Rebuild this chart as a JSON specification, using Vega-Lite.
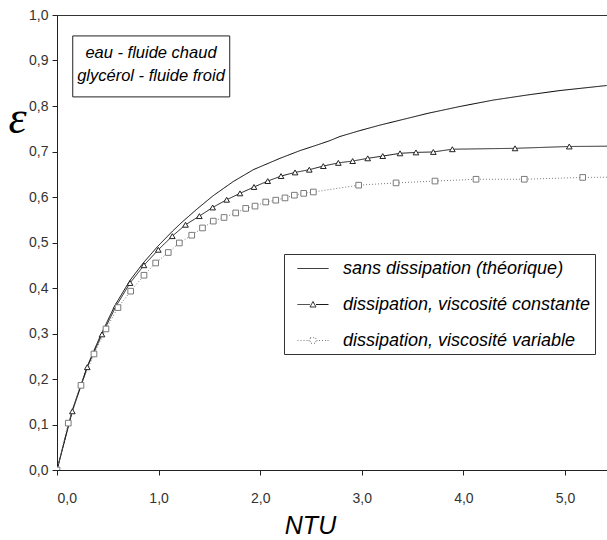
{
  "$schema": "https://vega.github.io/schema/vega-lite/v6.json",
  "width": 551,
  "height": 455,
  "autosize": {"type": "none"},
  "padding": {"left": 57, "top": 15, "right": 0, "bottom": 70},
  "background": "white",
  "config": {
    "view": {"stroke": "#333", "strokeWidth": 1},
    "axis": {"grid": false, "domainColor": "#222", "tickColor": "#222", "tickSize": 5, "labelFont": "Liberation Sans", "labelColor": "#333", "labelFontSize": 14}
  },
  "data": {"values": [
    {"serie": "sans dissipation (théorique)", "ntu": 0, "eps": 0},
    {"serie": "sans dissipation (théorique)", "ntu": 0.15, "eps": 0.131},
    {"serie": "sans dissipation (théorique)", "ntu": 0.3, "eps": 0.229},
    {"serie": "sans dissipation (théorique)", "ntu": 0.423, "eps": 0.293},
    {"serie": "sans dissipation (théorique)", "ntu": 0.571, "eps": 0.362},
    {"serie": "sans dissipation (théorique)", "ntu": 0.719, "eps": 0.417},
    {"serie": "sans dissipation (théorique)", "ntu": 0.849, "eps": 0.455},
    {"serie": "sans dissipation (théorique)", "ntu": 0.989, "eps": 0.491},
    {"serie": "sans dissipation (théorique)", "ntu": 1.137, "eps": 0.525},
    {"serie": "sans dissipation (théorique)", "ntu": 1.227, "eps": 0.544},
    {"serie": "sans dissipation (théorique)", "ntu": 1.375, "eps": 0.573},
    {"serie": "sans dissipation (théorique)", "ntu": 1.538, "eps": 0.603},
    {"serie": "sans dissipation (théorique)", "ntu": 1.735, "eps": 0.634},
    {"serie": "sans dissipation (théorique)", "ntu": 1.932, "eps": 0.66},
    {"serie": "sans dissipation (théorique)", "ntu": 2.195, "eps": 0.685},
    {"serie": "sans dissipation (théorique)", "ntu": 2.392, "eps": 0.702},
    {"serie": "sans dissipation (théorique)", "ntu": 2.556, "eps": 0.714},
    {"serie": "sans dissipation (théorique)", "ntu": 2.687, "eps": 0.724},
    {"serie": "sans dissipation (théorique)", "ntu": 2.785, "eps": 0.733},
    {"serie": "sans dissipation (théorique)", "ntu": 2.982, "eps": 0.746},
    {"serie": "sans dissipation (théorique)", "ntu": 3.179, "eps": 0.758},
    {"serie": "sans dissipation (théorique)", "ntu": 3.343, "eps": 0.767},
    {"serie": "sans dissipation (théorique)", "ntu": 3.652, "eps": 0.784},
    {"serie": "sans dissipation (théorique)", "ntu": 3.967, "eps": 0.799},
    {"serie": "sans dissipation (théorique)", "ntu": 4.294, "eps": 0.813},
    {"serie": "sans dissipation (théorique)", "ntu": 4.623, "eps": 0.824},
    {"serie": "sans dissipation (théorique)", "ntu": 4.951, "eps": 0.834},
    {"serie": "sans dissipation (théorique)", "ntu": 5.41, "eps": 0.845},
    {"serie": "dissipation, viscosité constante", "ntu": 0, "eps": 0},
    {"serie": "dissipation, viscosité constante", "ntu": 0.151, "eps": 0.129},
    {"serie": "dissipation, viscosité constante", "ntu": 0.298, "eps": 0.226},
    {"serie": "dissipation, viscosité constante", "ntu": 0.443, "eps": 0.298},
    {"serie": "dissipation, viscosité constante", "ntu": 0.581, "eps": 0.36},
    {"serie": "dissipation, viscosité constante", "ntu": 0.719, "eps": 0.411},
    {"serie": "dissipation, viscosité constante", "ntu": 0.856, "eps": 0.45},
    {"serie": "dissipation, viscosité constante", "ntu": 0.997, "eps": 0.484},
    {"serie": "dissipation, viscosité constante", "ntu": 1.135, "eps": 0.514},
    {"serie": "dissipation, viscosité constante", "ntu": 1.265, "eps": 0.539},
    {"serie": "dissipation, viscosité constante", "ntu": 1.401, "eps": 0.558},
    {"serie": "dissipation, viscosité constante", "ntu": 1.532, "eps": 0.577},
    {"serie": "dissipation, viscosité constante", "ntu": 1.67, "eps": 0.594},
    {"serie": "dissipation, viscosité constante", "ntu": 1.801, "eps": 0.608},
    {"serie": "dissipation, viscosité constante", "ntu": 1.939, "eps": 0.622},
    {"serie": "dissipation, viscosité constante", "ntu": 2.074, "eps": 0.635},
    {"serie": "dissipation, viscosité constante", "ntu": 2.205, "eps": 0.646},
    {"serie": "dissipation, viscosité constante", "ntu": 2.343, "eps": 0.654},
    {"serie": "dissipation, viscosité constante", "ntu": 2.483, "eps": 0.66},
    {"serie": "dissipation, viscosité constante", "ntu": 2.621, "eps": 0.668},
    {"serie": "dissipation, viscosité constante", "ntu": 2.769, "eps": 0.675},
    {"serie": "dissipation, viscosité constante", "ntu": 2.91, "eps": 0.679},
    {"serie": "dissipation, viscosité constante", "ntu": 3.058, "eps": 0.685},
    {"serie": "dissipation, viscosité constante", "ntu": 3.206, "eps": 0.69},
    {"serie": "dissipation, viscosité constante", "ntu": 3.376, "eps": 0.696},
    {"serie": "dissipation, viscosité constante", "ntu": 3.533, "eps": 0.698},
    {"serie": "dissipation, viscosité constante", "ntu": 3.704, "eps": 0.699},
    {"serie": "dissipation, viscosité constante", "ntu": 3.891, "eps": 0.705},
    {"serie": "dissipation, viscosité constante", "ntu": 4.508, "eps": 0.707},
    {"serie": "dissipation, viscosité constante", "ntu": 5.042, "eps": 0.711},
    {"serie": "dissipation, viscosité constante", "ntu": 5.6, "eps": 0.712},
    {"serie": "dissipation, viscosité variable", "ntu": 0, "eps": 0},
    {"serie": "dissipation, viscosité variable", "ntu": 0.111, "eps": 0.103},
    {"serie": "dissipation, viscosité variable", "ntu": 0.236, "eps": 0.186},
    {"serie": "dissipation, viscosité variable", "ntu": 0.364, "eps": 0.255},
    {"serie": "dissipation, viscosité variable", "ntu": 0.482, "eps": 0.31},
    {"serie": "dissipation, viscosité variable", "ntu": 0.6, "eps": 0.357},
    {"serie": "dissipation, viscosité variable", "ntu": 0.725, "eps": 0.393},
    {"serie": "dissipation, viscosité variable", "ntu": 0.856, "eps": 0.428},
    {"serie": "dissipation, viscosité variable", "ntu": 0.971, "eps": 0.455},
    {"serie": "dissipation, viscosité variable", "ntu": 1.095, "eps": 0.478},
    {"serie": "dissipation, viscosité variable", "ntu": 1.204, "eps": 0.499},
    {"serie": "dissipation, viscosité variable", "ntu": 1.326, "eps": 0.516},
    {"serie": "dissipation, viscosité variable", "ntu": 1.432, "eps": 0.532},
    {"serie": "dissipation, viscosité variable", "ntu": 1.538, "eps": 0.547},
    {"serie": "dissipation, viscosité variable", "ntu": 1.644, "eps": 0.555},
    {"serie": "dissipation, viscosité variable", "ntu": 1.759, "eps": 0.565},
    {"serie": "dissipation, viscosité variable", "ntu": 1.857, "eps": 0.575},
    {"serie": "dissipation, viscosité variable", "ntu": 1.949, "eps": 0.58},
    {"serie": "dissipation, viscosité variable", "ntu": 2.054, "eps": 0.589},
    {"serie": "dissipation, viscosité variable", "ntu": 2.153, "eps": 0.593},
    {"serie": "dissipation, viscosité variable", "ntu": 2.244, "eps": 0.598},
    {"serie": "dissipation, viscosité variable", "ntu": 2.336, "eps": 0.604},
    {"serie": "dissipation, viscosité variable", "ntu": 2.428, "eps": 0.608},
    {"serie": "dissipation, viscosité variable", "ntu": 2.523, "eps": 0.611},
    {"serie": "dissipation, viscosité variable", "ntu": 2.969, "eps": 0.626},
    {"serie": "dissipation, viscosité variable", "ntu": 3.337, "eps": 0.631},
    {"serie": "dissipation, viscosité variable", "ntu": 3.72, "eps": 0.635},
    {"serie": "dissipation, viscosité variable", "ntu": 4.124, "eps": 0.639},
    {"serie": "dissipation, viscosité variable", "ntu": 4.599, "eps": 0.639},
    {"serie": "dissipation, viscosité variable", "ntu": 5.174, "eps": 0.643},
    {"serie": "dissipation, viscosité variable", "ntu": 5.65, "eps": 0.644}
  ]},
  "encoding": {
    "x": {"field": "ntu", "type": "quantitative", "scale": {"domain": [0, 5.423], "nice": false, "zero": false},
      "axis": {"values": [0, 1, 2, 3, 4, 5], "labelExpr": "replace(format(datum.value, '.1f'), '.', ',')", "labelFontSize": 14, "labelPadding": 16,
        "title": "NTU", "titleFont": "Liberation Sans", "titleFontSize": 25, "titleFontStyle": "italic", "titleFontWeight": "normal", "titleColor": "#000", "titleX": 253, "titleY": 63, "titleBaseline": "alphabetic", "titleAlign": "center"}},
    "y": {"field": "eps", "type": "quantitative", "scale": {"domain": [0, 1], "nice": false},
      "axis": {"values": [0, 0.1, 0.2, 0.3, 0.4, 0.5, 0.6, 0.7, 0.8, 0.9, 1], "labelExpr": "replace(format(datum.value, '.1f'), '.', ',')", "labelPadding": 4,
        "title": "ε", "titleAngle": 0, "titleFont": "Liberation Serif", "titleFontSize": 46, "titleFontStyle": "italic", "titleFontWeight": "normal", "titleColor": "#000", "titleX": -40, "titleY": 103, "titleAlign": "center", "titleBaseline": "middle"}}
  },
  "layer": [
    {
      "mark": {"type": "line", "clip": true, "strokeWidth": 1},
      "encoding": {
        "color": {"field": "serie", "type": "nominal",
          "scale": {"domain": ["sans dissipation (théorique)", "dissipation, viscosité constante", "dissipation, viscosité variable"], "range": ["#000000", "#1a1a1a", "#7a7a7a"]},
          "legend": {"title": null, "orient": "none", "legendX": 227, "legendY": 239, "fillColor": "white", "strokeColor": "#333", "padding": 4,
            "symbolSize": 400, "symbolOffset": 14.5, "labelOffset": 19.5, "rowPadding": 16, "symbolStrokeWidth": 1,
            "labelFont": "Liberation Sans", "labelFontSize": 18, "labelFontStyle": "italic", "labelColor": "#000", "labelLimit": 400,
            "encoding": {"symbols": {"shape": {"value": {"expr": "datum.index == 0 ? 'M-1.55,0H1.55' : datum.index == 1 ? 'M-1.55,0H-0.3M0.3,0H1.55M-0.3,0.25L0,-0.3L0.3,0.25Z' : 'M-1.55,0h0.1M-1.25,0h0.1M-0.95,0h0.1M-0.65,0h0.1M-0.45,0h0.1M0.35,0h0.1M0.6,0h0.1M0.9,0h0.1M1.2,0h0.1M1.45,0h0.1M-0.28,-0.28H0.28V0.28H-0.28Z'"}}}}}},
        "strokeDash": {"field": "serie", "type": "nominal",
          "scale": {"domain": ["sans dissipation (théorique)", "dissipation, viscosité constante", "dissipation, viscosité variable"], "range": [[1, 0], [1, 0], [1, 2]]},
          "legend": null}
      }
    },
    {
      "transform": [{"filter": "datum.serie != 'sans dissipation (théorique)'"}],
      "mark": {"type": "point", "clip": true, "filled": true, "fill": "white", "size": 32, "strokeWidth": 1, "opacity": 1},
      "encoding": {
        "shape": {"field": "serie", "type": "nominal", "scale": {"domain": ["dissipation, viscosité constante", "dissipation, viscosité variable"], "range": ["triangle-up", "square"]}, "legend": null},
        "stroke": {"field": "serie", "type": "nominal", "scale": {"domain": ["dissipation, viscosité constante", "dissipation, viscosité variable"], "range": ["#222222", "#7a7a7a"]}, "legend": null}
      }
    },
    {
      "data": {"values": [{"x0": 0.155, "x1": 1.7, "y0": 0.82, "y1": 0.954}]},
      "mark": {"type": "rect", "fill": "white", "stroke": "#222", "strokeWidth": 1},
      "encoding": {
        "x": {"field": "x0", "type": "quantitative"},
        "x2": {"field": "x1"},
        "y": {"field": "y0", "type": "quantitative"},
        "y2": {"field": "y1"}
      }
    },
    {
      "data": {"values": [
        {"ntu": 0.925, "eps": 0.916, "label": "eau - fluide chaud"},
        {"ntu": 0.925, "eps": 0.866, "label": "glycérol - fluide froid"}
      ]},
      "mark": {"type": "text", "font": "Liberation Sans", "fontSize": 16.5, "fontStyle": "italic", "color": "#000", "align": "center", "baseline": "middle"},
      "encoding": {
        "text": {"field": "label"}
      }
    }
  ]
}
